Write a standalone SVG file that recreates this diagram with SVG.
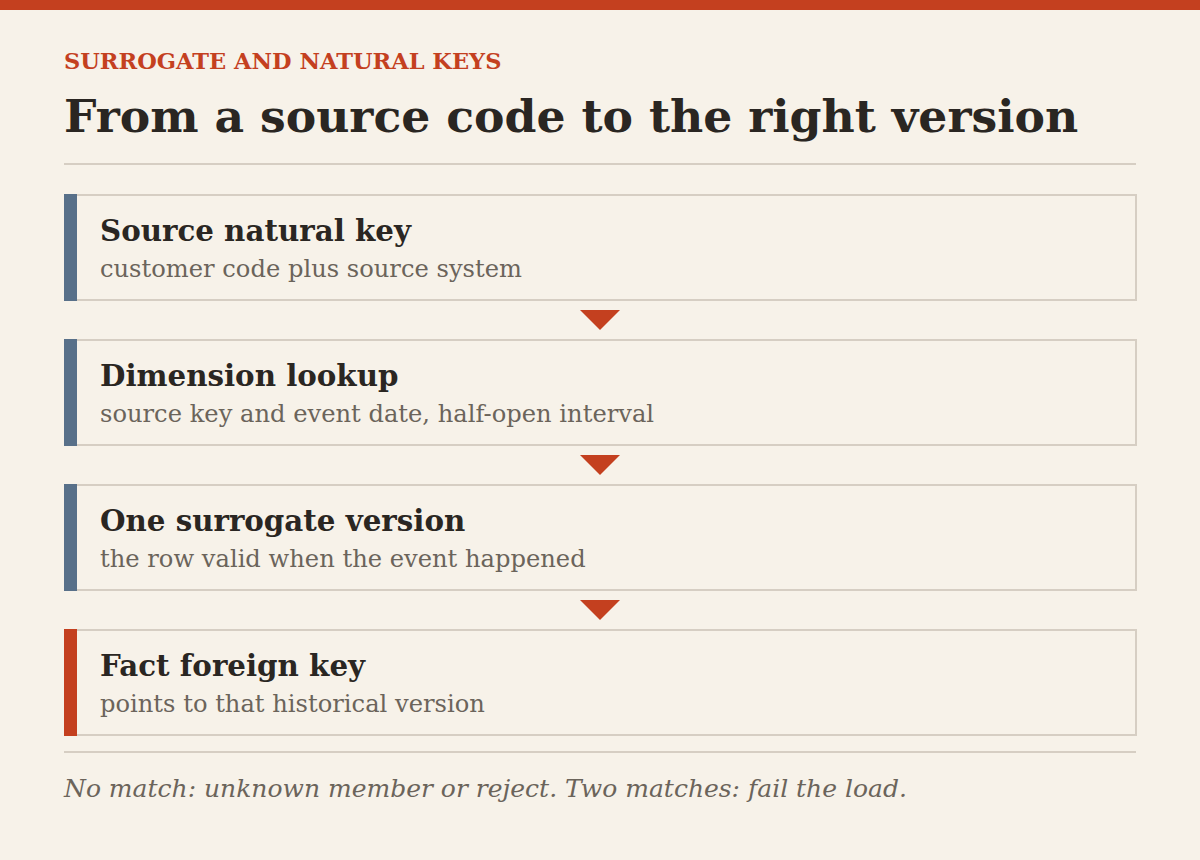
<svg xmlns="http://www.w3.org/2000/svg" width="1200" height="860" viewBox="0 0 1200 860">
<style>
.kicker{font-family:"DejaVu Serif",serif;font-weight:bold;font-size:22.5px;fill:#c4401f}
.title{font-family:"DejaVu Serif",serif;font-weight:bold;font-size:45.7px;fill:#2a2622}
.nt{font-family:"DejaVu Serif",serif;font-weight:bold;font-size:29.3px;fill:#2a2622}
.ns{font-family:"DejaVu Serif",serif;font-size:24.2px;fill:#6b645b}
.foot{font-family:"DejaVu Serif",serif;font-style:italic;font-size:25px;fill:#6b645b}
.box{fill:#f7f2e9;stroke:#d6cec3;stroke-width:2}
.rule{stroke:#d6cec3;stroke-width:2}
.arrow{fill:#c4401f}
</style>
<rect width="1200" height="860" fill="#f7f2e9"/>
<rect width="1200" height="10" fill="#c4401f"/>
<text class="kicker" x="64" y="69">SURROGATE AND NATURAL KEYS</text>
<text class="title" x="64" y="132">From a source code to the right version</text>
<line class="rule" x1="64" y1="164" x2="1136" y2="164"/>
<g id="connectors">
<polygon class="arrow" points="580,310 620,310 600,330"/>
<polygon class="arrow" points="580,455 620,455 600,475"/>
<polygon class="arrow" points="580,600 620,600 600,620"/>
</g>
<g id="node1">
<rect class="box" x="65" y="195" width="1071" height="105"/>
<rect x="64" y="194" width="13" height="107" fill="#587089"/>
<text class="nt" x="100" y="241">Source natural key</text>
<text class="ns" x="100" y="277">customer code plus source system</text>
</g>
<g id="node2">
<rect class="box" x="65" y="340" width="1071" height="105"/>
<rect x="64" y="339" width="13" height="107" fill="#587089"/>
<text class="nt" x="100" y="386">Dimension lookup</text>
<text class="ns" x="100" y="422">source key and event date, half-open interval</text>
</g>
<g id="node3">
<rect class="box" x="65" y="485" width="1071" height="105"/>
<rect x="64" y="484" width="13" height="107" fill="#587089"/>
<text class="nt" x="100" y="531">One surrogate version</text>
<text class="ns" x="100" y="567">the row valid when the event happened</text>
</g>
<g id="node4">
<rect class="box" x="65" y="630" width="1071" height="105"/>
<rect x="64" y="629" width="13" height="107" fill="#c4401f"/>
<text class="nt" x="100" y="676">Fact foreign key</text>
<text class="ns" x="100" y="712">points to that historical version</text>
</g>
<line class="rule" x1="64" y1="752" x2="1136" y2="752"/>
<text class="foot" x="64" y="797">No match: unknown member or reject. Two matches: fail the load.</text>
</svg>
